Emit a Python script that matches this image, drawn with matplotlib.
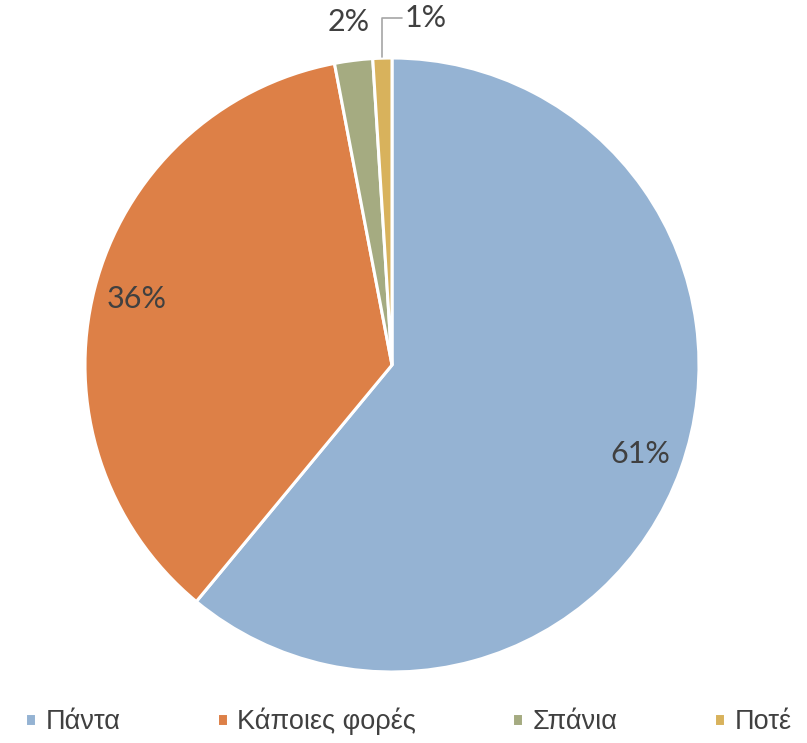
import matplotlib
matplotlib.use("Agg")
import matplotlib.pyplot as plt
from matplotlib import font_manager
import numpy as np

labels = ['Πάντα', 'Κάποιες φορές', 'Σπάνια', 'Ποτέ']
values = [61, 36, 2, 1]
colors = ['#95B3D3', '#DD8047', '#A5AB81', '#D8B25C']
text_color = '#404040'

names = {f.name for f in font_manager.fontManager.ttflist}
label_font = 'Lato' if 'Lato' in names else 'DejaVu Sans'
legend_font = 'Liberation Sans' if 'Liberation Sans' in names else 'DejaVu Sans'

fig = plt.figure(figsize=(8.07, 7.43), dpi=100)
ax = fig.add_axes([85 / 807, 71 / 743, 614 / 807, 614 / 743])

wedges, _ = ax.pie(values, colors=colors, startangle=90, counterclock=False,
                   wedgeprops=dict(edgecolor='white', linewidth=2.2))
ax.set_xlim(-1, 1)
ax.set_ylim(-1, 1)
ax.set_aspect('equal')
ax.axis('off')

for w, v in zip(wedges, values):
    mid = np.deg2rad((w.theta1 + w.theta2) / 2)
    if v >= 10:
        r = 0.86
        ax.text(r * np.cos(mid), r * np.sin(mid), f'{v}%', ha='center', va='center',
                fontsize=22, color=text_color, family=label_font)
    elif v >= 2:
        r = 1.125
        ax.text(r * np.cos(mid), r * np.sin(mid), f'{v}%', ha='center', va='center',
                fontsize=22, color=text_color, family=label_font, clip_on=False)
    else:
        ax.annotate(f'{v}%', xy=(np.cos(mid), np.sin(mid)), xytext=(0.04, 1.085),
                    ha='left', va='bottom', fontsize=22, color=text_color,
                    family=label_font, annotation_clip=False,
                    arrowprops=dict(arrowstyle='-', color='#A6A6A6', lw=1.2,
                                    shrinkA=0, shrinkB=1,
                                    connectionstyle='angle,angleA=0,angleB=90,rad=0'))

leg = fig.legend(wedges, labels, loc='lower center', bbox_to_anchor=(0.506, -0.004),
                 ncol=4, frameon=False, handlelength=0.4, handleheight=0.4,
                 handletextpad=0.35, columnspacing=3.56, borderaxespad=0.0,
                 prop=dict(family=legend_font, size=19.5))
for t in leg.get_texts():
    t.set_color(text_color)

fig.savefig('out.png', dpi=100)
